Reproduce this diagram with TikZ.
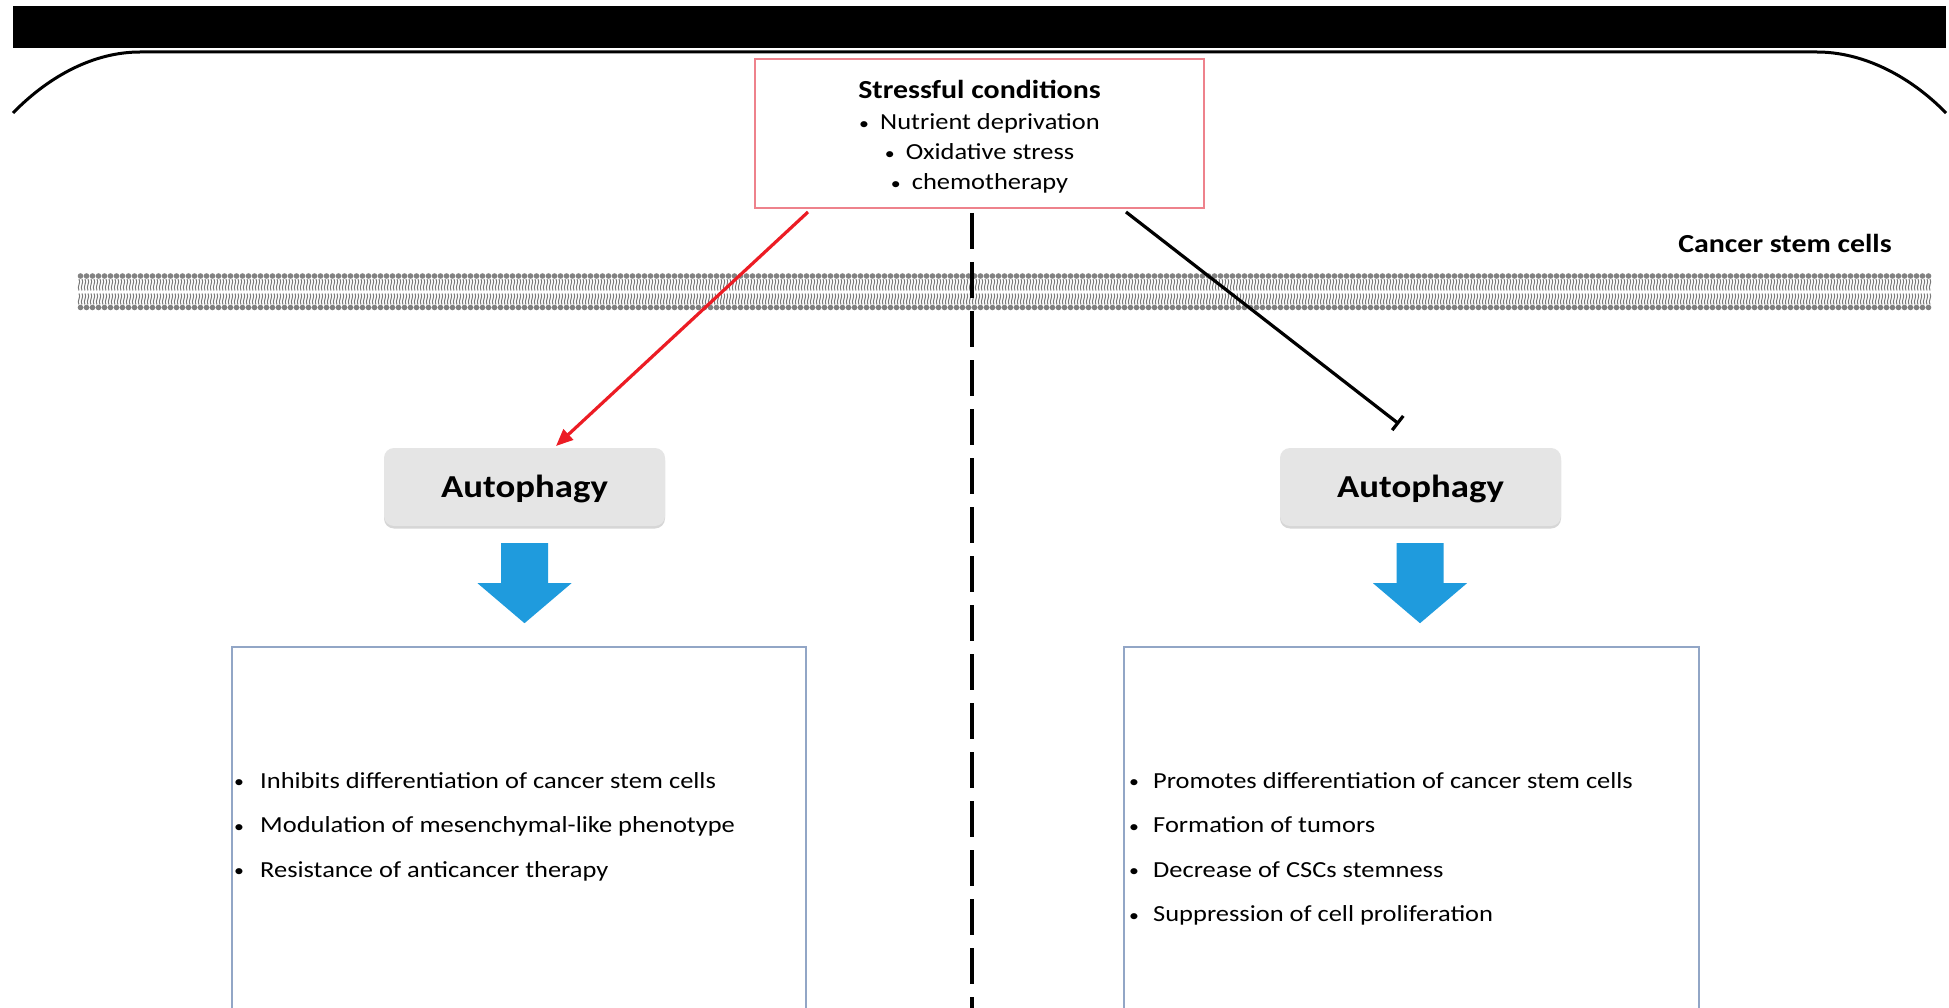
\documentclass[tikz,border=0pt]{standalone}
\usepackage{graphicx}
\usepackage{fontspec}
\setmainfont{Carlito}[FakeStretch=1.15]
\usetikzlibrary{arrows.meta,calc}
\definecolor{redline}{RGB}{236,28,36}
\definecolor{pinkbox}{RGB}{238,130,140}
\definecolor{autogray}{RGB}{229,229,229}
\definecolor{autoshade}{RGB}{214,214,214}
\definecolor{blockblue}{RGB}{31,155,221}
\definecolor{boxblue}{RGB}{146,166,198}
\definecolor{memgray}{RGB}{130,130,130}
\definecolor{memtail}{RGB}{120,120,120}
\newcommand\mybul[1]{\makebox[#1][l]{\raisebox{0.5pt}{\scalebox{0.75}{\textbullet}}}}
\begin{document}
\begin{tikzpicture}[x=1pt,y=-1pt,
  stressbox/.style={draw=pinkbox, line width=1.5pt, minimum width=449pt, minimum height=149pt, inner sep=0pt},
  headtext/.style={font=\bfseries\fontsize{26}{30}\selectfont, inner sep=0pt, anchor=base},
  stresstext/.style={font=\fontsize{23}{27}\selectfont, inner sep=0pt, anchor=base},
  autobox/.style={fill=autogray, rounded corners=10pt, minimum width=281pt, minimum height=78pt, inner sep=0pt,
    text height=24pt, text depth=4pt, font=\bfseries\fontsize{32}{36}\selectfont},
  autoshadow/.style={fill=autoshade, rounded corners=10pt, minimum width=281pt, minimum height=78pt, inner sep=0pt},
  listbox/.style={draw=boxblue, line width=1.5pt, minimum width=574pt, minimum height=368pt, inner sep=0pt},
  listtext/.style={font=\fontsize{23}{27}\selectfont, inner sep=0pt, anchor=base west},
  redarrow/.style={draw=redline, line width=3.2pt, -{Triangle[length=17pt,width=14pt]}},
  inhib/.style={draw=black, line width=3.2pt, -{Bar[width=18pt,line width=3.2pt]}},
  divider/.style={line width=4pt, dash pattern=on 36pt off 13pt},
  blockarrow/.style={fill=blockblue}
]
\useasboundingbox (0,0) rectangle (1949,1008);
\clip (0,0) rectangle (1949,1008);
\fill[white] (0,0) rectangle (1949,1008);

% header bar and cell outline
\fill[black] (13,6) rectangle (1946,48);
\draw[line width=3pt] (13,113) .. controls (50,75) and (95,52) .. (140,52) -- (1817,52)
  .. controls (1862,52) and (1909,75) .. (1946,113);

% membrane
\draw[memtail, line width=1pt]
  foreach \i in {0,...,308} {
    ({79+6*\i},279) .. controls ({81.5+6*\i},282.5) and ({76.5+6*\i},286.5) .. ({79+6*\i},290.5)
    ({82+6*\i},279) .. controls ({84.5+6*\i},282.5) and ({79.5+6*\i},286.5) .. ({82+6*\i},290.5)
    ({79+6*\i},293.5) .. controls ({81.5+6*\i},297) and ({76.5+6*\i},301) .. ({79+6*\i},304.5)
    ({82+6*\i},293.5) .. controls ({84.5+6*\i},297) and ({79.5+6*\i},301) .. ({82+6*\i},304.5)
  };
\fill[memgray]
  foreach \i in {0,...,308} {
    ({80.5+6*\i},276) circle (2.8pt)
    ({80.5+6*\i},307.5) circle (2.8pt)
  };

% stressful conditions
\node[stressbox] (stress) at (979.5,133.5) {};
\node[headtext] (stitle) at (979.5,99) {Stressful conditions};
\node[stresstext] (s1) at (979.5,130) {\mybul{21pt}Nutrient deprivation};
\node[stresstext] (s2) at (979.5,160) {\mybul{21pt}Oxidative stress};
\node[stresstext] (s3) at (979.5,190) {\mybul{21pt}chemotherapy};

\node[headtext, anchor=base east] (csc) at (1892,253) {Cancer stem cells};

% divider
\coordinate (dtop) at (972,213);
\coordinate (dbot) at (972,1012);
\draw[divider] (dtop) -- (dbot);

% autophagy boxes (with faint shadow)
\node[autoshadow] (shL) at (524.5,489.5) {};
\node[autoshadow] (shR) at (1420.5,489.5) {};
\node[autobox] (autoL) at (524.5,487) {Autophagy};
\node[autobox] (autoR) at (1420.5,487) {Autophagy};

% connectors
\coordinate (rs) at (808,212);
\coordinate (re) at (556,446);
\draw[redarrow] (rs) -- (re);
\coordinate (bs) at (1126,212);
\coordinate (be) at (1399,424);
\draw[inhib] (bs) -- (be);

% block arrows
\fill[blockarrow] ($(autoL.south)+(-23.5,17)$) -- ++(47,0) -- ++(0,40) -- ++(23.5,0)
  -- ++(-47,40) -- ++(-47,-40) -- ++(23.5,0) -- cycle;
\fill[blockarrow] ($(autoR.south)+(-24,17)$) -- ++(47,0) -- ++(0,40) -- ++(23.5,0)
  -- ++(-47,40) -- ++(-47,-40) -- ++(23.5,0) -- cycle;

% list boxes
\node[listbox] (listL) at (519,831) {};
\node[listbox, minimum width=575pt] (listR) at (1411.5,831) {};

\node[listtext] (l1) at (234,788) {\mybul{26pt}Inhibits differentiation of cancer stem cells};
\node[listtext] (l2) at (234,832.5) {\mybul{26pt}Modulation of mesenchymal-like phenotype};
\node[listtext] (l3) at (234,877) {\mybul{26pt}Resistance of anticancer therapy};

\node[listtext] (r1) at (1129,788) {\mybul{24pt}Promotes differentiation of cancer stem cells};
\node[listtext] (r2) at (1129,832.5) {\mybul{24pt}Formation of tumors};
\node[listtext] (r3) at (1129,877) {\mybul{24pt}Decrease of CSCs stemness};
\node[listtext] (r4) at (1129,921.5) {\mybul{24pt}Suppression of cell proliferation};
\end{tikzpicture}
\end{document}
